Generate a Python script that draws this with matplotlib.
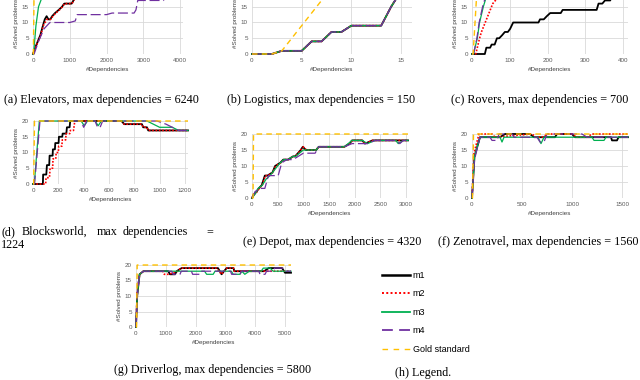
import matplotlib
matplotlib.use("Agg")
import matplotlib.pyplot as plt
from matplotlib.lines import Line2D

W, H = 640, 380

# (a) Elevators
elev_m1_x = [0, 60, 130, 200, 270, 320, 370, 420, 470, 520, 600, 700, 790, 850, 1000, 1050, 1100, 1150, 1250]
elev_m1_y = [0, 2, 4, 6, 9, 11, 12, 11, 11, 12, 13, 14, 15, 16, 16, 16, 17, 18, 20]
elev_m2_x = [0, 70, 140, 210, 280, 330, 380, 430, 480, 540, 620, 720, 800, 860, 1000, 1060, 1110, 1160, 1260]
elev_m2_y = [0, 2, 4, 6, 9, 10, 11, 11, 11, 12, 13, 14, 15, 16, 16, 16, 17, 18, 20]
elev_m3_x = [0, 15, 80, 150, 230, 300]
elev_m3_y = [0, 0, 9, 15, 17.5, 20]
elev_m4_x = [0, 30, 150, 300, 460, 1000, 1150, 1200, 2000, 2150, 2750, 2800, 2850, 3550, 3650]
elev_m4_y = [0, 0, 4, 8, 10, 10, 10.5, 12.5, 12.5, 13, 13, 14, 17, 17, 20]
elev_gold_x = [0, 10, 30, 4080]
elev_gold_y = [0, 0, 20, 20]

# (b) Logistics - the four methods coincide
log_x = [0, 1, 2, 3, 4, 5, 6, 7, 8, 9, 10, 11, 12, 13, 14, 15]
log_y = [0, 0, 0, 1, 1, 1, 4, 4, 7, 7, 9, 9, 9, 9, 15, 20]
log_gold_x = [0, 1, 2, 3, 4, 5, 6, 7, 8, 16]
log_gold_y = [0, 0, 0, 1, 5, 9, 13, 17, 20, 20]

# (c) Rovers
rov_m1_x = [0, 34, 38, 48, 52, 60, 66, 72, 80, 87, 95, 101, 109, 176, 180, 190, 198, 207, 235, 240, 330, 335, 345, 352, 366, 372]
rov_m1_y = [0, 0, 2, 2, 3, 3, 5, 5, 6, 7, 7, 8, 10, 10, 11, 11, 12, 13, 13, 14, 14, 16, 16, 17, 17, 20]
rov_m2_x = [0, 10, 20, 25, 35, 45, 55, 62, 70]
rov_m2_y = [0, 0, 5, 7, 10, 13, 16, 17, 20]
rov_m3_x = [0, 4, 14, 20, 30, 35, 42]
rov_m3_y = [0, 0, 5, 10, 15, 17, 20]
rov_m4_x = [0, 4, 13, 19, 28, 33, 40]
rov_m4_y = [0, 0, 5, 10, 15, 17, 20]
rov_gold_x = [0, 3, 13, 413]
rov_gold_y = [0, 0, 20, 20]

# (d) Blocksworld
bw_m1_x = [0, 78, 80, 105, 110, 128, 131, 155, 157, 173, 176, 202, 205, 231, 234, 263, 268, 289, 294, 700, 720, 860, 870, 900, 910, 1224]
bw_m1_y = [0, 0, 3, 3, 6, 6, 9, 9, 11, 11, 13, 13, 15, 15, 16, 16, 18, 18, 20, 20, 19, 19, 18, 18, 17, 17]
bw_m2_x = [0, 100, 103, 130, 135, 155, 158, 180, 183, 200, 203, 228, 231, 258, 261, 290, 295, 320, 330, 700, 720, 860, 870, 900, 910, 1224]
bw_m2_y = [0, 0, 2, 2, 5, 5, 8, 8, 10, 10, 12, 12, 14, 14, 16, 16, 17, 17, 20, 20, 19, 19, 18, 18, 17, 17]
bw_m3_x = [0, 10, 50, 380, 405, 430, 490, 515, 540, 900, 950, 1000, 1100, 1150, 1224]
bw_m3_y = [0, 0, 20, 20, 18.5, 20, 20, 18.5, 20, 20, 19, 18, 18, 17, 17]
bw_m4_x = [0, 12, 55, 380, 400, 425, 490, 510, 530, 550, 980, 1050, 1100, 1150, 1224]
bw_m4_y = [0, 0, 20, 20, 18, 20, 20, 18, 18, 20, 20, 19, 18, 17, 17]
bw_gold_x = [0, 5, 12, 1224]
bw_gold_y = [0, 0, 20, 20]

# (e) Depot
dep_m1_x = [0, 30, 90, 130, 190, 250, 300, 400, 450, 550, 610, 700, 800, 840, 950, 990, 1050, 1250, 1300, 1800, 1900, 1950, 2150, 2200, 2350, 3040]
dep_m1_y = [0, 1, 2, 3, 4, 7, 7, 8, 10, 11, 12, 12, 13, 13, 15, 16, 15, 15, 16, 16, 17, 18, 18, 17, 18, 18]
dep_m2_x = [0, 40, 100, 140, 200, 260, 310, 410, 460, 560, 620, 710, 800, 850, 950, 1000, 1060, 1250, 1300, 1800, 1900, 1960, 2150, 2210, 2350, 3040]
dep_m2_y = [0, 1, 2, 3, 4, 7, 7, 8, 10, 11, 12, 12, 13, 13, 15, 16, 15, 15, 16, 16, 17, 18, 18, 17, 18, 18]
dep_m3_x = [0, 50, 120, 200, 280, 350, 450, 550, 620, 700, 800, 850, 1000, 1250, 1300, 1800, 1950, 2150, 2250, 2400, 2800, 2850, 2950, 3040]
dep_m3_y = [0, 1, 3, 4, 6, 7, 9, 11, 12, 12, 13, 13, 15, 15, 16, 16, 18, 18, 17, 18, 18, 17, 18, 18]
dep_m4_x = [0, 60, 150, 250, 320, 510, 580, 680, 800, 900, 1000, 1230, 1300, 1800, 1950, 2150, 2250, 2400, 2800, 2880, 2950, 3040]
dep_m4_y = [0, 2, 3, 3, 7, 7, 11, 12, 12, 13, 14, 14, 16, 16, 17, 17, 17, 18, 18, 17, 18, 18]
dep_gold_x = [0, 20, 30, 3040]
dep_gold_y = [0, 0, 20, 20]

# (f) Zenotravel
zen_m1_x = [0, 25, 80, 280, 330, 580, 620, 830, 850, 1000, 1030, 1390, 1400, 1450, 1465, 1560]
zen_m1_y = [0, 13, 19, 19, 20, 20, 19, 19, 20, 20, 19, 19, 18, 18, 19, 19]
zen_m2_x = [0, 20, 70, 200, 230, 600, 640, 700, 760, 1000, 1050, 1150, 1200, 1560]
zen_m2_y = [0, 14, 20, 20, 19, 20, 19, 19, 20, 20, 19, 19, 20, 20]
zen_m3_x = [0, 25, 80, 280, 300, 320, 660, 690, 720, 980, 1000, 1200, 1220, 1320, 1340, 1560]
zen_m3_y = [0, 13, 19, 19, 17.5, 19, 19, 17, 19, 19, 19, 19, 18, 18, 19, 19]
zen_m4_x = [0, 25, 80, 180, 200, 250, 270, 400, 420, 650, 680, 720, 750, 1100, 1150, 1560]
zen_m4_y = [0, 12, 19, 19, 18, 18, 20, 20, 19, 19, 17.5, 17.5, 20, 20, 19, 19]
zen_gold_x = [0, 5, 15, 1560]
zen_gold_y = [0, 0, 20, 20]

# (g) Driverlog
drv_m1_x = [0, 40, 120, 250, 1080, 1140, 1310, 1365, 1530, 2750, 2870, 3040, 3270, 3300, 4160, 4300, 4450, 4900, 5000, 5200]
drv_m1_y = [0, 10, 17, 18, 18, 17, 17, 18, 19, 19, 17, 19, 19, 18, 18, 18, 19, 19, 17.5, 17.5]
drv_m2_x = [0, 40, 120, 250, 900, 950, 1100, 1400, 1500, 2200, 2300, 2700, 2870, 3040, 3270, 3300, 5200]
drv_m2_y = [0, 11, 17, 18, 18, 17, 17, 18, 19, 19, 19, 19, 17, 19, 19, 18, 18]
drv_m3_x = [0, 40, 120, 250, 2300, 2370, 2590, 2650, 3200, 3260, 3490, 3550, 3650, 3800, 4200, 4270, 4500, 4600, 5200]
drv_m3_y = [0, 10, 17, 18, 18, 17, 17, 18, 18, 17, 17, 18, 17, 18, 18, 19, 19, 18, 18]
drv_m4_x = [0, 40, 120, 250, 1200, 1240, 1475, 1520, 1860, 1900, 2150, 2200, 3170, 3210, 3490, 3530, 4120, 4160, 4330, 4380, 4600, 4650, 4930, 5000, 5200]
drv_m4_y = [0, 10, 17, 18, 18, 17, 17, 18, 18, 17, 17, 18, 18, 17, 17, 18, 18, 17, 17, 18, 18, 19, 19, 18, 18]
drv_gold_x = [0, 20, 40, 5200]
drv_gold_y = [0, 0, 20, 20]

labels = ["m1", "m2", "m3", "m4", "Gold standard"]
styles = [
    dict(color="black", lw=1.3, ls="-"),
    dict(color="#ff0000", lw=1.2, ls=(0, (1, 1))),
    dict(color="#00b050", lw=0.9, ls="-"),
    dict(color="#7030a0", lw=0.9, ls=(0, (8, 3))),
    dict(color="#ffc000", lw=1.0, ls=(0, (4, 3))),
]

SERIF = "Liberation Serif"
SANS = "Liberation Sans"
CAP = 8.7

fig = plt.figure(figsize=(6.4, 3.8), dpi=100)


def box(left, right, top, bottom):
    return [left / W, 1 - bottom / H, (right - left) / W, (bottom - top) / H]


def panel(rect, xmax, xticks, series):
    ax = fig.add_axes(rect)
    for (x, y), st in zip(series, styles):
        ax.plot(x, y, clip_on=False, **st)
    ax.set_xlim(0, xmax)
    ax.set_ylim(0, 20)
    ax.set_xticks(xticks)
    ax.set_yticks([0, 5, 10, 15, 20])
    ax.grid(color="#d9d9d9", lw=0.6)
    ax.set_axisbelow(True)
    for s in ax.spines.values():
        s.set_visible(False)
    ax.tick_params(length=0, labelsize=4.5, colors="#595959", pad=3)
    for t in ax.get_xticklabels() + ax.get_yticklabels():
        t.set_family(SANS)
    ax.set_xlabel("#Dependencies", fontsize=4.5, labelpad=3, color="#404040", family=SANS)
    ax.set_ylabel("#Solved problems", fontsize=4.5, labelpad=2, color="#404040", family=SANS)
    return ax


def caption(cx, cy, text, ha="center"):
    fig.text(cx / W, 1 - cy / H, text, ha=ha, va="center", fontsize=CAP, family=SERIF)


panel(box(33, 183, -9, 54), 4080, [0, 1000, 2000, 3000, 4000],
      [(elev_m1_x, elev_m1_y), (elev_m2_x, elev_m2_y), (elev_m3_x, elev_m3_y),
       (elev_m4_x, elev_m4_y), (elev_gold_x, elev_gold_y)])
caption(101, 100, "(a) Elevators, max dependencies = 6240")

panel(box(252, 412, -9, 54), 16.1, [0, 5, 10, 15],
      [(log_x, log_y), (log_x, log_y), (log_x, log_y), (log_x, log_y),
       (log_gold_x, log_gold_y)])
caption(321, 100, "(b) Logistics, max dependencies = 150")

panel(box(472, 628, -9, 54), 413, [0, 100, 200, 300, 400],
      [(rov_m1_x, rov_m1_y), (rov_m2_x, rov_m2_y), (rov_m3_x, rov_m3_y),
       (rov_m4_x, rov_m4_y), (rov_gold_x, rov_gold_y)])
caption(540, 100, "(c) Rovers, max dependencies = 700")

panel(box(33, 188, 121, 184), 1224, [0, 200, 400, 600, 800, 1000, 1200],
      [(bw_m1_x, bw_m1_y), (bw_m2_x, bw_m2_y), (bw_m3_x, bw_m3_y),
       (bw_m4_x, bw_m4_y), (bw_gold_x, bw_gold_y)])
# justified two-line caption
for wx, word in [(1, "(d)"), (22, "Blocksworld,"), (97, "max"), (123, "dependencies"), (206, "=")]:
    fig.text(wx / W, 1 - 232 / H, word, ha="left", va="center", fontsize=CAP, family=SERIF)
fig.text(1 / W, 1 - 245 / H, "1224", ha="left", va="center", fontsize=CAP, family=SERIF)

panel(box(252, 408, 134, 198), 3040, [0, 500, 1000, 1500, 2000, 2500, 3000],
      [(dep_m1_x, dep_m1_y), (dep_m2_x, dep_m2_y), (dep_m3_x, dep_m3_y),
       (dep_m4_x, dep_m4_y), (dep_gold_x, dep_gold_y)])
caption(332, 242, "(e) Depot, max dependencies = 4320")

panel(box(472, 628, 134, 198), 1560, [0, 500, 1000, 1500],
      [(zen_m1_x, zen_m1_y), (zen_m2_x, zen_m2_y), (zen_m3_x, zen_m3_y),
       (zen_m4_x, zen_m4_y), (zen_gold_x, zen_gold_y)])
caption(638, 242, "(f) Zenotravel, max dependencies = 1560", ha="right")

panel(box(136, 291, 265, 327), 5200, [0, 1000, 2000, 3000, 4000, 5000],
      [(drv_m1_x, drv_m1_y), (drv_m2_x, drv_m2_y), (drv_m3_x, drv_m3_y),
       (drv_m4_x, drv_m4_y), (drv_gold_x, drv_gold_y)])
caption(213, 370, "(g) Driverlog, max dependencies = 5800")

# (h) legend panel
handles = [
    Line2D([], [], color="black", lw=1.8),
    Line2D([], [], color="#ff0000", lw=1.4, ls=(0, (1, 1.2))),
    Line2D([], [], color="#00b050", lw=1.3),
    Line2D([], [], color="#7030a0", lw=1.3, ls=(0, (6, 3.5))),
    Line2D([], [], color="#ffc000", lw=1.0, ls=(0, (4, 4))),
]
fig.legend(handles, labels, loc="upper left", bbox_to_anchor=(382 / W, 1 - 271 / H),
           frameon=False, prop={"family": SANS, "size": 6.5}, handlelength=3.1,
           handletextpad=0.3, labelspacing=1.05, borderpad=0, borderaxespad=0)
caption(423, 373, "(h) Legend.")

fig.savefig("out.png", dpi=100)
